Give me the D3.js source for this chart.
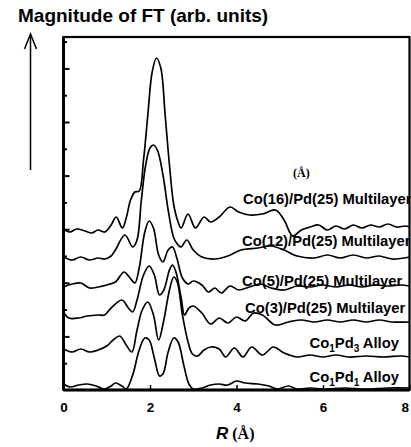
<!DOCTYPE html>
<html>
<head>
<meta charset="utf-8">
<script src="https://cdn.jsdelivr.net/npm/d3@7"></script>
<style>
  body { margin: 0; background: #fff; }
  text { font-family: "Liberation Sans", Arial, sans-serif; font-weight: bold; fill: #000; }
</style>
</head>
<body>
<div id="chart"></div>
<script>
// FT magnitude curves: [R (A), magnitude (arb.)]
var co16 = [[0,16.1],[0.15,15.8],[0.3,16.1],[0.5,15.9],[0.65,15.7],[0.8,16.0],[0.95,15.8],[1.1,16.5],[1.22,17.3],
  [1.36,16.2],[1.45,17.2],[1.55,19.0],[1.65,19.8],[1.75,19.9],[1.85,23.0],[1.95,27.5],[2.05,31.8],[2.15,33.2],
  [2.25,32.2],[2.35,27.5],[2.45,22.5],[2.55,18.5],[2.65,16.8],[2.72,16.2],[2.88,17.6],[3.05,16.2],[3.25,17.3],
  [3.4,16.8],[3.6,17.3],[3.85,18.3],[4.05,17.8],[4.3,17.5],[4.6,17.6],[4.9,18.0],[5.1,17.0],[5.3,15.4],[5.5,16.0],
  [5.7,16.3],[5.9,16.5],[6.1,16.0],[6.3,16.4],[6.5,16.1],[6.7,16.5],[6.9,16.2],[7.1,16.5],[7.3,16.3],[7.5,16.6],
  [7.7,16.3],[7.9,16.4],[8.0,16.3]];

var co12 = [[0,13.3],[0.2,13.0],[0.4,13.3],[0.6,13.0],[0.8,13.2],[0.95,13.1],[1.1,13.4],[1.2,14.0],[1.42,15.5],
  [1.6,14.3],[1.7,15.0],[1.8,19.0],[1.9,22.5],[2.0,24.2],[2.08,24.5],[2.17,24.0],[2.3,21.5],[2.42,18.0],[2.55,15.2],
  [2.65,14.5],[2.72,14.3],[2.85,15.0],[3.0,14.0],[3.2,13.3],[3.5,13.1],[3.8,13.4],[4.1,14.0],[4.5,14.2],[4.8,14.4],
  [5.1,14.0],[5.4,13.4],[5.8,13.2],[6.1,13.5],[6.4,13.2],[6.7,13.5],[7.0,13.2],[7.3,13.4],[7.6,13.1],[8.0,13.3]];

var co5 = [[0,10.3],[0.2,10.6],[0.4,10.7],[0.6,10.2],[0.8,10.3],[1.0,10.5],[1.2,10.8],[1.4,11.8],[1.52,11.3],
  [1.65,10.7],[1.75,12.2],[1.88,15.8],[1.98,16.9],[2.08,16.2],[2.2,13.5],[2.3,12.8],[2.42,14.0],[2.52,14.3],
  [2.62,13.2],[2.75,11.2],[2.88,10.6],[3.0,10.9],[3.2,10.5],[3.35,9.8],[3.5,10.2],[3.65,9.7],[3.85,10.4],[4.05,10.0],
  [4.3,10.3],[4.55,10.6],[4.8,10.2],[5.1,10.0],[5.4,10.4],[5.7,10.3],[6.0,10.5],[6.3,10.3],[6.6,10.5],[6.9,10.3],
  [7.2,10.5],[7.5,10.4],[7.8,10.5],[8.0,10.4]];

var co3 = [[0,7.8],[0.12,7.2],[0.35,7.2],[0.55,7.4],[0.8,7.5],[0.95,7.5],[1.1,8.2],[1.35,9.0],[1.5,8.2],[1.6,7.8],
  [1.7,9.0],[1.85,11.5],[1.98,12.4],[2.1,11.5],[2.22,9.5],[2.32,10.0],[2.45,12.0],[2.52,12.5],[2.6,11.8],[2.72,9.2],
  [2.8,7.5],[2.9,8.2],[3.0,8.4],[3.2,7.7],[3.4,6.6],[3.6,7.2],[3.8,6.7],[4.0,7.3],[4.2,6.9],[4.4,7.7],[4.6,7.5],
  [4.9,6.5],[5.2,6.8],[5.5,7.0],[5.8,6.8],[6.1,7.0],[6.4,6.8],[6.7,7.0],[7.0,6.8],[7.3,7.0],[7.6,6.8],[8.0,6.8]];

var co1pd3 = [[0,4.1],[0.2,3.8],[0.4,4.1],[0.6,3.8],[0.8,4.0],[1.0,4.4],[1.15,5.0],[1.3,5.4],[1.45,4.5],[1.58,3.8],
  [1.7,6.0],[1.82,8.0],[1.95,8.8],[2.08,7.5],[2.2,5.0],[2.32,7.0],[2.45,10.0],[2.55,11.3],[2.63,10.8],[2.75,7.5],
  [2.88,4.8],[2.98,3.6],[3.1,3.4],[3.25,4.0],[3.4,4.3],[3.6,4.1],[3.75,3.3],[3.95,4.2],[4.15,3.3],[4.35,4.3],
  [4.6,3.5],[4.85,4.3],[5.1,3.7],[5.4,3.3],[5.7,3.5],[6.0,3.3],[6.3,3.5],[6.6,3.3],[7.0,3.4],[7.4,3.3],[7.8,3.4],[8.0,3.3]];

var co1pd1 = [[0,0.6],[0.15,0.3],[0.35,0.5],[0.55,0.6],[0.75,0.4],[0.95,0.1],[1.1,0.4],[1.2,0.7],[1.35,0.4],[1.45,0.1],
  [1.6,1.5],[1.75,4.0],[1.88,5.2],[1.98,5.0],[2.1,3.2],[2.22,1.4],[2.3,1.6],[2.42,3.8],[2.55,5.2],[2.65,4.8],
  [2.78,2.5],[2.9,0.6],[3.0,0.1],[3.2,0.2],[3.4,0.5],[3.6,0.6],[3.8,0.5],[4.0,0.9],[4.2,0.7],[4.5,0.6],[4.75,0.4],
  [4.95,0.1],[5.2,0.4],[5.4,0.1],[5.7,0.2],[6.0,0.1],[6.5,0.2],[7.0,0.1],[7.5,0.2],[8.0,0.2]];

var seriesList = [co16, co12, co5, co3, co1pd3, co1pd1];

var xTicks = [0, 2, 4, 6, 8];
var xTickLabels = ["0", "2", "4", "6", "8"];
var yTickStep = 2.68;

var svgWidth = 411, svgHeight = 447;
var margin = {top: 37, right: 1.5, bottom: 57, left: 63.5};
var width = svgWidth - margin.left - margin.right;
var height = svgHeight - margin.top - margin.bottom;

var svg = d3.select("#chart").append("svg")
  .attr("width", svgWidth)
  .attr("height", svgHeight);

var chartGroup = svg.append("g")
  .attr("transform", `translate(${margin.left}, ${margin.top})`);

var xScale = d3.scaleLinear().domain([0, 8]).range([0, width]);
var yScale = d3.scaleLinear().domain([0, 35.3]).range([height, 0]);

// curves
var line = d3.line()
  .x(d => xScale(d[0]))
  .y(d => yScale(d[1]))
  .curve(d3.curveCatmullRom.alpha(0.5));

chartGroup.append("defs").append("clipPath").attr("id", "plotClip")
  .append("rect").attr("width", width).attr("height", height);

chartGroup.append("g").attr("clip-path", "url(#plotClip)")
  .selectAll("path")
  .data(seriesList)
  .enter()
  .append("path")
  .attr("d", line)
  .attr("fill", "none")
  .attr("stroke", "#000")
  .attr("stroke-width", 1.7)
  .attr("stroke-linejoin", "round");

// y ticks, inward, no labels (major every other)
var yMajor = d3.range(2, 14, 2).map(k => k * yTickStep);
var yMinor = d3.range(1, 14, 2).map(k => k * yTickStep);

[[yMajor, 6], [yMinor, 3.5]].forEach(function(p) {
  var g = chartGroup.append("g")
    .call(d3.axisLeft(yScale).tickValues(p[0]).tickSizeInner(-p[1]).tickSizeOuter(0).tickFormat(""));
  g.select(".domain").remove();
  g.selectAll("line").attr("stroke-width", 2);
});

// x axis
var xAxis = chartGroup.append("g")
  .attr("transform", `translate(0, ${height})`)
  .call(d3.axisBottom(xScale).tickValues(xTicks).tickSizeInner(-5).tickSizeOuter(0)
    .tickPadding(12).tickFormat((d, i) => xTickLabels[i]));
xAxis.select(".domain").remove();
xAxis.selectAll("line").attr("stroke-width", 1.5);
xAxis.selectAll("text")
  .style("font-family", "'Liberation Sans', Arial, sans-serif")
  .style("font-weight", "bold")
  .style("font-size", "13.5px")
  .filter(d => d === 8)
  .attr("text-anchor", "end")
  .attr("dx", -1);

// frame
chartGroup.append("rect")
  .attr("width", width).attr("height", height)
  .attr("fill", "none").attr("stroke", "#000").attr("stroke-width", 2.2);
chartGroup.append("line")
  .attr("x1", 0).attr("x2", width).attr("y1", height).attr("y2", height)
  .attr("stroke", "#000").attr("stroke-width", 3);
chartGroup.append("line")
  .attr("x1", 0).attr("x2", 0).attr("y1", 0).attr("y2", height)
  .attr("stroke", "#000").attr("stroke-width", 3);

// series labels
var multiLabels = ["Co(16)/Pd(25) Multilayer", "Co(12)/Pd(25) Multilayer",
                   "Co(5)/Pd(25) Multilayer", "Co(3)/Pd(25) Multilayer"];
var multiY = [204, 246, 286, 313];
var multiX = [243, 242, 242, 245];

multiLabels.forEach(function(t, i) {
  svg.append("text")
    .attr("x", multiX[i]).attr("y", multiY[i])
    .style("font-size", "14.8px")
    .text(t);
});

function alloyLabel(sub1, sub2, y) {
  var t = svg.append("text").attr("x", 399).attr("y", y)
    .attr("text-anchor", "end").style("font-size", "14.8px");
  t.append("tspan").text("Co");
  t.append("tspan").attr("dy", 4).style("font-size", "10px").text(sub1);
  t.append("tspan").attr("dy", -4).text("Pd");
  t.append("tspan").attr("dy", 4).style("font-size", "10px").text(sub2);
  t.append("tspan").attr("dy", -4).text(" Alloy");
}
alloyLabel("1", "3", 348);
alloyLabel("1", "1", 382);

svg.append("text")
  .attr("x", 293).attr("y", 177)
  .style("font-family", "'Liberation Serif', 'Times New Roman', serif")
  .style("font-size", "12px")
  .text("(Å)");

// axis titles
svg.append("text")
  .attr("x", 18).attr("y", 22)
  .style("font-size", "19px")
  .text("Magnitude of FT (arb. units)");

svg.append("line")
  .attr("x1", 30.5).attr("x2", 30.5).attr("y1", 34).attr("y2", 170)
  .attr("stroke", "#000").attr("stroke-width", 1.5);
svg.append("path")
  .attr("d", "M24.5,49 L30.5,34 L36.5,49")
  .attr("fill", "none").attr("stroke", "#000").attr("stroke-width", 1.5);

var xTitle = svg.append("text")
  .attr("x", 216).attr("y", 439)
  .style("font-size", "17px");
xTitle.append("tspan").style("font-style", "italic").text("R");
xTitle.append("tspan")
  .style("font-family", "'Liberation Serif', 'Times New Roman', serif")
  .style("font-size", "16px")
  .text(" (Å)");
</script>
</body>
</html>
